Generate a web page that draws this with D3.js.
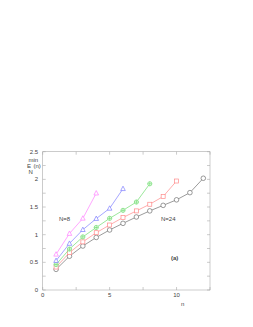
<!DOCTYPE html>
<html>
<head>
<meta charset="utf-8">
<script src="https://cdn.jsdelivr.net/npm/d3@7"></script>
<style>
	body { margin: 0; background: #fff; }
	text { font-family: "Liberation Sans", Arial, sans-serif; fill: #444; }
</style>
</head>
<body>
<svg id="chart" width="253" height="327"></svg>
<script>
// values
const n8 = [0.645, 1.02, 1.295, 1.75];
const n12 = [0.53, 0.84, 1.09, 1.29, 1.475, 1.83];
const n16 = [0.46, 0.74, 0.96, 1.13, 1.295, 1.44, 1.59, 1.92];
const n20 = [0.415, 0.675, 0.87, 1.036, 1.175, 1.31, 1.43, 1.55, 1.69, 1.97];
const n24 = [0.373, 0.61, 0.795, 0.95, 1.085, 1.205, 1.32, 1.43, 1.53, 1.63, 1.76, 2.02];
const xTicks = [0, 5, 10];
const yTicks = [0, 0.5, 1, 1.5, 2, 2.5];

const series = [
	{ values: n24, color: "#707070", marker: "circle" },
	{ values: n20, color: "#ff8a8a", marker: "square" },
	{ values: n16, color: "#70dd70", marker: "circleplus" },
	{ values: n12, color: "#8080ff", marker: "triangle" },
	{ values: n8, color: "#ff80ff", marker: "triangle" },
];

const svg = d3.select("#chart");
const plotLeft = 42.7, plotRight = 210, plotTop = 151.7, plotBottom = 290;

const x = d3.scaleLinear().domain([0, 12.5]).range([plotLeft, plotRight]);
const y = d3.scaleLinear().domain([0, 2.5]).range([plotBottom, plotTop]);

// frame
svg.append("rect")
	.attr("x", plotLeft).attr("y", plotTop)
	.attr("width", plotRight - plotLeft).attr("height", plotBottom - plotTop)
	.attr("fill", "none").attr("stroke", "#aaa").attr("stroke-width", 0.6);

// inward ticks on all four sides
const xMinor = d3.range(0, 12.5 + 0.01, 2.5);
const yMinor = d3.range(0, 2.5 + 0.01, 0.25);
const ticks = svg.append("g").attr("stroke", "#aaa").attr("stroke-width", 0.6);
xMinor.forEach((v) => {
	ticks.append("line").attr("x1", x(v)).attr("x2", x(v)).attr("y1", plotBottom).attr("y2", plotBottom - 3);
	ticks.append("line").attr("x1", x(v)).attr("x2", x(v)).attr("y1", plotTop).attr("y2", plotTop + 3);
});
yMinor.forEach((v) => {
	ticks.append("line").attr("x1", plotLeft).attr("x2", plotLeft + 3).attr("y1", y(v)).attr("y2", y(v));
	ticks.append("line").attr("x1", plotRight).attr("x2", plotRight - 3).attr("y1", y(v)).attr("y2", y(v));
});

// tick labels
svg.append("g").selectAll("text").data(xTicks).join("text")
	.attr("x", (d) => x(d)).attr("y", plotBottom + 7)
	.attr("text-anchor", "middle").attr("font-size", 6)
	.text((d) => d);
svg.append("g").selectAll("text").data(yTicks).join("text")
	.attr("x", plotLeft - 4.5).attr("y", (d) => y(d) + 2)
	.attr("text-anchor", "end").attr("font-size", 6)
	.text((d) => d);

// lines and markers
const line = d3.line().x((d, i) => x(i + 1)).y((d) => y(d));
series.forEach((s) => {
	const g = svg.append("g").attr("stroke", s.color).attr("fill", "none").attr("stroke-width", 0.7);
	g.append("path").attr("d", line(s.values));
	s.values.forEach((v, i) => {
		const cx = x(i + 1), cy = y(v);
		if (s.marker === "circle") {
			g.append("circle").attr("cx", cx).attr("cy", cy).attr("r", 2.3).attr("fill", "#fff");
		} else if (s.marker === "circleplus") {
			g.append("circle").attr("cx", cx).attr("cy", cy).attr("r", 2.1).attr("fill", "#fff");
			g.append("path").attr("d", `M${cx - 2.1},${cy}H${cx + 2.1}M${cx},${cy - 2.1}V${cy + 2.1}`);
		} else if (s.marker === "square") {
			g.append("rect").attr("x", cx - 2).attr("y", cy - 2).attr("width", 4).attr("height", 4).attr("fill", "#fff");
		} else {
			g.append("path").attr("fill", "#fff")
				.attr("d", `M${cx},${cy - 2.6}L${cx + 2.3},${cy + 1.8}L${cx - 2.3},${cy + 1.8}Z`);
		}
	});
});

// annotations
const notes = svg.append("g").attr("font-size", 6);
notes.append("text").attr("x", 59).attr("y", 221).text("N=8");
notes.append("text").attr("x", 161).attr("y", 221).text("N=24");
notes.append("text").attr("x", 171).attr("y", 260).attr("font-weight", "bold").text("(a)");
notes.append("text").attr("x", 181).attr("y", 306).text("n");

// y axis label: E_N^min(n)
notes.append("text").attr("x", 28.5).attr("y", 162).text("min");
notes.append("text").attr("x", 27).attr("y", 167.5).text("E");
notes.append("text").attr("x", 33.5).attr("y", 167.5).text("(n)");
notes.append("text").attr("x", 28.5).attr("y", 174).text("N");
</script>
</body>
</html>
